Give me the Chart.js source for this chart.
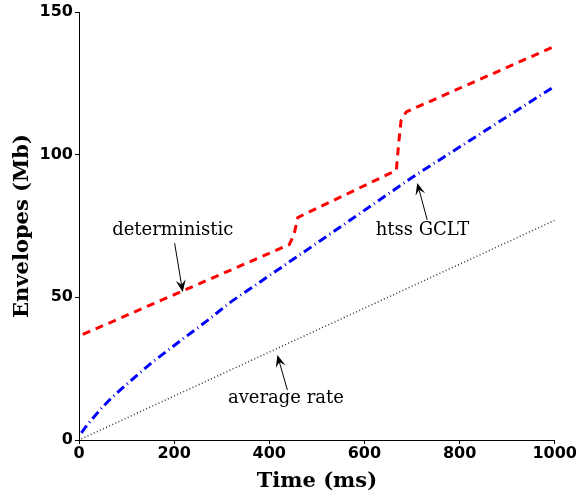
<!DOCTYPE html>
<html>
<head>
<meta charset="utf-8">
<script src="https://cdn.jsdelivr.net/npm/chart.js@4"></script>
<style>
  html, body { margin: 0; padding: 0; background: #fff; }
  #wrap { width: 577px; height: 497px; }
</style>
</head>
<body>
<div id="wrap"><canvas id="myChart" width="577" height="497"></canvas></div>
<script>
// deterministic envelope (red dashed)
const detTime = [8, 442, 452, 460, 667, 672, 677, 688, 1000];
const detEnv = [37, 68.5, 72, 78, 94.5, 104, 112, 115, 138];

// htss GCLT envelope (blue dash-dot)
const gcltTime = [5, 16, 30, 48, 68, 100, 152, 215, 271, 320, 500, 700, 1000];
const gcltEnv = [2.5, 5, 7.8, 11.3, 14.7, 19.5, 27, 35, 42, 48.5, 69, 92, 124];

// average rate (black dotted)
const avgTime = [5, 1000];
const avgEnv = [0.4, 77];

const xTicks = [0, 200, 400, 600, 800, 1000];
const yTicks = [0, 50, 100, 150];

// annotation labels: text position and arrow tail -> tip, in data units
const notes = [
    { text: 'deterministic', at: [197, 73.6], tail: [201, 69], tip: [218, 51.9] },
    { text: 'htss GCLT', at: [722, 73.6], tail: [732, 77.1], tip: [711, 90.1] },
    { text: 'average rate', at: [435, 14.6], tail: [438, 17.5], tip: [417, 29.8] }
];

const toPts = (xs, ys) => xs.map((x, i) => ({ x: x, y: ys[i] }));

const notePlugin = {
    id: 'notes',
    afterDatasetsDraw(chart) {
        const ctx = chart.ctx;
        const sx = chart.scales.x, sy = chart.scales.y;
        ctx.save();
        notes.forEach(n => {
            const tx = sx.getPixelForValue(n.tail[0]), ty = sy.getPixelForValue(n.tail[1]);
            const px = sx.getPixelForValue(n.tip[0]), py = sy.getPixelForValue(n.tip[1]);
            const ang = Math.atan2(py - ty, px - tx);
            const len = 12, wid = 5;
            // shaft
            ctx.strokeStyle = '#000';
            ctx.lineWidth = 1;
            ctx.setLineDash([]);
            ctx.beginPath();
            ctx.moveTo(tx, ty);
            ctx.lineTo(px - Math.cos(ang) * len * 0.6, py - Math.sin(ang) * len * 0.6);
            ctx.stroke();
            // head
            const bx = px - Math.cos(ang) * len, by = py - Math.sin(ang) * len;
            const nx = -Math.sin(ang) * wid, ny = Math.cos(ang) * wid;
            const mx = px - Math.cos(ang) * len * 0.6, my = py - Math.sin(ang) * len * 0.6;
            ctx.fillStyle = '#000';
            ctx.beginPath();
            ctx.moveTo(px, py);
            ctx.lineTo(bx + nx, by + ny);
            ctx.lineTo(mx, my);
            ctx.lineTo(bx - nx, by - ny);
            ctx.closePath();
            ctx.fill();
            // text
            ctx.font = '18px "DejaVu Serif"';
            ctx.textAlign = 'center';
            ctx.textBaseline = 'middle';
            ctx.fillText(n.text, sx.getPixelForValue(n.at[0]), sy.getPixelForValue(n.at[1]));
        });
        ctx.restore();
    }
};

const tickFont = { family: 'DejaVu Sans', size: 16, weight: 'bold' };
const titleFont = { family: 'DejaVu Serif', size: 21, weight: 'bold' };

const ctx = document.getElementById('myChart');
const myChart = new Chart(ctx, {
    type: 'line',
    data: {
        datasets: [
            {
                label: 'deterministic',
                data: toPts(detTime, detEnv),
                borderColor: '#ff0000',
                borderWidth: 3,
                borderDash: [8, 6],
                pointRadius: 0,
                fill: false,
                tension: 0
            },
            {
                label: 'htss GCLT',
                data: toPts(gcltTime, gcltEnv),
                borderColor: '#0000ff',
                borderWidth: 3,
                borderDash: [9, 4, 1, 4],
                pointRadius: 0,
                fill: false,
                tension: 0
            },
            {
                label: 'average rate',
                data: toPts(avgTime, avgEnv),
                borderColor: '#333333',
                borderWidth: 1.5,
                borderDash: [1, 2.4],
                pointRadius: 0,
                fill: false
            }
        ]
    },
    options: {
        responsive: false,
        animation: false,
        layout: { padding: { top: 12, right: 21, left: 10, bottom: 0 } },
        plugins: {
            legend: { display: false },
            tooltip: { enabled: false }
        },
        scales: {
            x: {
                type: 'linear',
                min: 0,
                max: 1000,
                afterBuildTicks: (s) => { s.ticks = xTicks.map(v => ({ value: v })); },
                afterFit: (s) => { s.height = 57; },
                grid: { display: true, drawOnChartArea: false, tickLength: 4, color: '#000' },
                border: { display: true, color: '#000', width: 1 },
                ticks: { color: '#000', font: tickFont, padding: 0, maxRotation: 0, callback: (v) => String(v) },
                title: { display: true, text: 'Time (ms)', color: '#000', font: titleFont, padding: { top: 0, bottom: 3 } }
            },
            y: {
                type: 'linear',
                min: 0,
                max: 150,
                afterBuildTicks: (s) => { s.ticks = yTicks.map(v => ({ value: v })); },
                afterFit: (s) => { s.width = 69; },
                grid: { display: true, drawOnChartArea: false, tickLength: 4, color: '#000' },
                border: { display: true, color: '#000', width: 1 },
                ticks: { color: '#000', font: tickFont, padding: 2, callback: (v) => String(v) },
                title: { display: true, text: 'Envelopes (Mb)', color: '#000', font: titleFont, padding: { top: 0, bottom: 0 } }
            }
        }
    },
    plugins: [notePlugin]
});
</script>
</body>
</html>
